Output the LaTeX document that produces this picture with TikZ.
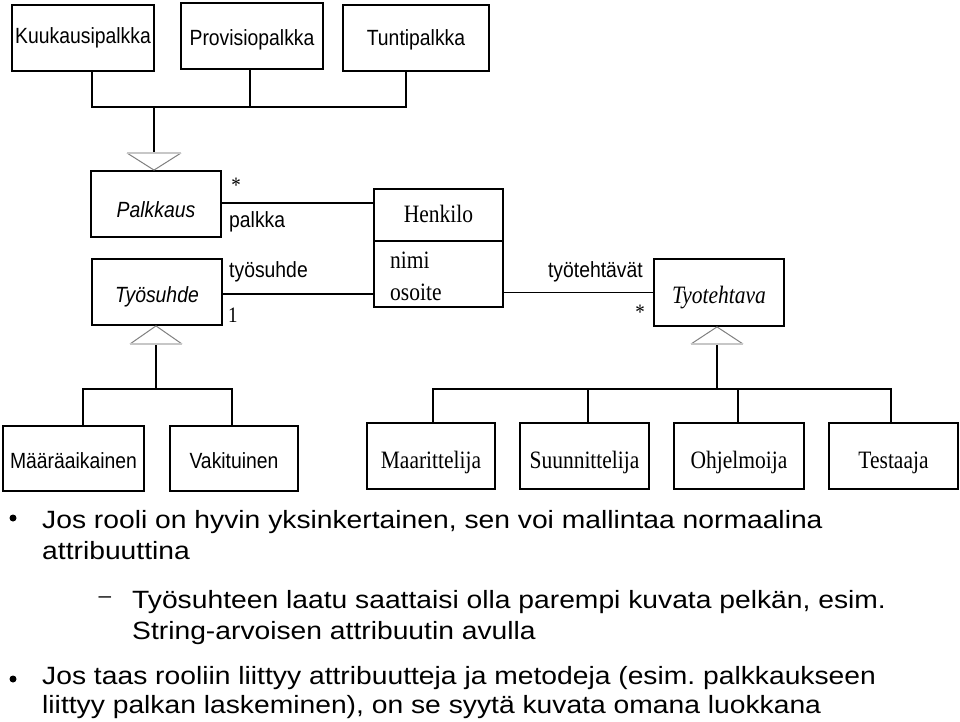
\documentclass[tikz,border=0pt]{standalone}
\usepackage{fontspec}
\setmainfont{Liberation Serif}
\newfontfamily\tahfont[FakeStretch=0.88]{Liberation Sans}
\newfontfamily\timfont[FakeStretch=0.86]{Liberation Serif}
\newfontfamily\bodyfont[FakeStretch=1.13]{Liberation Sans}
\frenchspacing
\begin{document}
\begin{tikzpicture}[x=1pt,y=-1pt,
  cls/.style={draw=black, line width=1.8pt, inner sep=0pt, fill=white, text depth=0pt},
  tahlbl/.style={font=\tahfont\fontsize{22}{26}\selectfont},
  timlbl/.style={font=\timfont\fontsize{25}{30}\selectfont},
  conn/.style={line width=1.8pt, line cap=rect},
  tritop/.style={draw=black!22, line width=2.4pt},
  tridiag/.style={draw=black!50, line width=1pt},
  lbl/.style={inner sep=0pt, anchor=base west},
  body/.style={font=\bodyfont\fontsize{25}{30}\selectfont, inner sep=0pt, anchor=base west},
  bullet/.style={circle, fill=black, inner sep=0pt, minimum size=7pt}
]
\useasboundingbox[fill=white] (0,0) rectangle (960,722);

% top subclasses
\node[cls, tahlbl, minimum width=142pt, minimum height=66pt, text height=12pt] (kuuk) at (83,38) {Kuukausipalkka};
\node[cls, tahlbl, minimum width=142pt, minimum height=66pt, text height=19pt] (prov) at (252,36) {Provisiopalkka};
\node[cls, tahlbl, minimum width=146pt, minimum height=66pt, text height=15pt] (tunt) at (416,38) {Tuntipalkka};

% middle classes
\node[cls, tahlbl, minimum width=130pt, minimum height=66pt, text height=26pt] (palk) at (156,204) {\itshape Palkkaus};
\node[cls, tahlbl, minimum width=130pt, minimum height=66pt, text height=20pt] (tyos) at (157,292) {\itshape Työsuhde};
\node[cls, timlbl, minimum width=129pt, minimum height=52pt, text height=14pt] (henk) at (438.5,215) {Henkilo};
\node[cls, minimum width=129pt, minimum height=66pt] (henkattr) at (438.5,274) {};
\node[timlbl, lbl] (nimi) at (390,268) {nimi};
\node[timlbl, lbl] (osoite) at (390,300) {osoite};
\node[cls, timlbl, minimum width=130pt, minimum height=67pt, text height=21pt] (tyot) at (719,292.5) {\itshape Tyotehtava};

% bottom subclasses
\node[cls, tahlbl, minimum width=141pt, minimum height=65pt, text height=19pt] (maar) at (73.5,458.5) {Määräaikainen};
\node[cls, tahlbl, minimum width=128pt, minimum height=65pt, text height=19pt] (vaki) at (234,458.5) {Vakituinen};
\node[cls, timlbl, minimum width=128pt, minimum height=66pt, text height=24pt] (mari) at (431,456) {Maarittelija};
\node[cls, timlbl, minimum width=129pt, minimum height=66pt, text height=24pt] (suun) at (584.5,456) {Suunnittelija};
\node[cls, timlbl, minimum width=130pt, minimum height=66pt, text height=24pt] (ohje) at (739,456) {Ohjelmoija};
\node[cls, timlbl, minimum width=129pt, minimum height=66pt, text height=24pt] (test) at (893.5,456) {Testaaja};

% top generalization
\coordinate (topbar) at (154,107);
\coordinate (ga) at (154,153);
\coordinate (ga1) at (127,153);
\coordinate (ga2) at (181,153);
\draw[conn] ([xshift=9pt]kuuk.south) |- (topbar) -- (ga);
\draw[conn] ([xshift=-2pt]prov.south) |- (topbar);
\draw[conn] ([xshift=-10pt]tunt.south) |- (topbar);
\draw[tridiag] (ga1) -- (palk.north -| ga) -- (ga2);
\draw[tritop] (ga1) -- (ga2);

% bottom-left generalization
\coordinate (gb) at (156,344);
\coordinate (gb1) at (130,344);
\coordinate (gb2) at (182,344);
\coordinate (botbarL) at (156,389);
\draw[conn] (gb) -- (botbarL);
\draw[conn] (botbarL) -| ([xshift=9.5pt]maar.north);
\draw[conn] (botbarL) -| ([xshift=-2pt]vaki.north);
\draw[tridiag] (gb1) -- (tyos.south -| gb) -- (gb2);
\draw[tritop] (gb1) -- (gb2);

% bottom-right generalization
\coordinate (gc) at (717,344);
\coordinate (gc1) at (691,344);
\coordinate (gc2) at (743,344);
\coordinate (botbarR) at (717,389);
\draw[conn] (gc) -- (botbarR);
\draw[conn] (botbarR) -| ([xshift=2pt]mari.north);
\draw[conn] (botbarR) -| ([xshift=3.5pt]suun.north);
\draw[conn] (botbarR) -| ([xshift=-1pt]ohje.north);
\draw[conn] (botbarR) -| ([xshift=-2.5pt]test.north);
\draw[tridiag] (gc1) -- (tyot.south -| gc) -- (gc2);
\draw[tritop] (gc1) -- (gc2);

% associations
\draw[conn, line cap=butt] ([yshift=1pt]palk.east) -- ([yshift=1pt]palk.east -| henk.west);
\draw[conn, line cap=butt] ([yshift=-2pt]tyos.east) -- ([yshift=-2pt]tyos.east -| henkattr.west);
\draw[conn, line cap=butt] (tyot.west) -- (tyot.west -| henkattr.east);

% association labels
\node[timlbl, font=\timfont\fontsize{22}{26}\selectfont] (star1) at (236,185) {*};
\node[tahlbl, lbl] (lpalkka) at (229,227) {palkka};
\node[tahlbl, lbl] (ltyosuhde) at (229,277) {työsuhde};
\node[timlbl, lbl, font=\timfont\fontsize{22}{26}\selectfont] (one) at (228,322) {1};
\node[tahlbl, inner sep=0pt, anchor=base east] (ltyot) at (643,277) {työtehtävät};
\node[timlbl, font=\timfont\fontsize{22}{26}\selectfont] (star2) at (640,312) {*};

% bullet text
\node[bullet] (b1) at (13,518) {};
\node[body] (t1) at (42,528) {Jos rooli on hyvin yksinkertainen, sen voi mallintaa normaalina};
\node[body] (t2) at (42,559) {attribuuttina};
\node[body, font=\bodyfont\fontsize{20}{24}\selectfont, anchor=center] (dash) at (105,600) {–};
\node[body] (t3) at (132,608) {Työsuhteen laatu saattaisi olla parempi kuvata pelkän, esim.};
\node[body] (t4) at (132,639) {String-arvoisen attribuutin avulla};
\node[bullet] (b2) at (13,679) {};
\node[body] (t5) at (42,684) {Jos taas rooliin liittyy attribuutteja ja metodeja (esim. palkkaukseen};
\node[body] (t6) at (42,713) {liittyy palkan laskeminen), on se syytä kuvata omana luokkana};
\end{tikzpicture}
\end{document}
